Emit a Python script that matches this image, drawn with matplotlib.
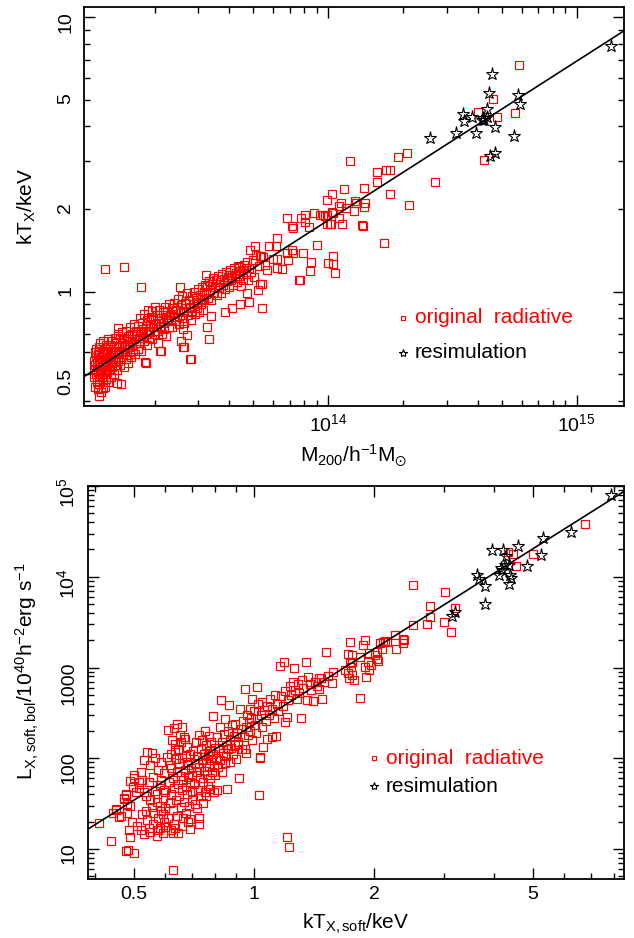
import numpy as np
import matplotlib
matplotlib.use('Agg')
import matplotlib.pyplot as plt
from matplotlib.ticker import FixedLocator, FixedFormatter, NullFormatter

# fonts
# -----
plt.rcParams['font.family'] = ['Liberation Sans', 'DejaVu Sans']
plt.rcParams['mathtext.fontset'] = 'custom'
plt.rcParams['mathtext.rm'] = 'Liberation Sans'
plt.rcParams['mathtext.it'] = 'Liberation Sans'
plt.rcParams['mathtext.default'] = 'regular'

# data, top panel: M200 (units of 1e13 h^-1 Msun) vs kT_X (keV)
# --------------------------------------------------------------
top_orig = [
    # M ~ 1.14 - 1.30
    (1.14, 0.52), (1.14, 0.56), (1.14, 0.49), (1.15, 0.60), (1.15, 0.45), (1.15, 0.54), (1.16, 0.58), (1.16, 0.50),
    (1.16, 0.62), (1.17, 0.47), (1.17, 0.55), (1.17, 0.53), (1.18, 0.59), (1.18, 0.44), (1.18, 0.51), (1.19, 0.57),
    (1.19, 0.63), (1.19, 0.48), (1.20, 0.53), (1.20, 0.60), (1.20, 0.46), (1.21, 0.55), (1.21, 0.65), (1.21, 0.50),
    (1.22, 0.58), (1.22, 0.52), (1.22, 0.43), (1.23, 0.61), (1.23, 0.56), (1.23, 0.49), (1.24, 0.54), (1.24, 0.66),
    (1.24, 0.47), (1.25, 0.59), (1.25, 0.52), (1.25, 0.57), (1.26, 0.62), (1.26, 0.50), (1.26, 0.45), (1.27, 0.55),
    (1.27, 0.60), (1.27, 0.53), (1.28, 0.64), (1.28, 0.48), (1.28, 0.57), (1.29, 0.51), (1.29, 0.59), (1.29, 0.54),
    (1.30, 0.62), (1.30, 0.56), (1.30, 0.47), (1.30, 0.67), (1.18, 0.442), (1.20, 0.415), (1.24, 0.445),
    # M ~ 1.3 - 1.7
    (1.31, 0.58), (1.32, 0.52), (1.32, 0.64), (1.33, 0.55), (1.33, 0.61), (1.34, 0.49), (1.34, 0.57), (1.35, 0.66),
    (1.35, 0.53), (1.36, 0.60), (1.36, 0.56), (1.37, 0.63), (1.37, 0.50), (1.38, 0.58), (1.38, 0.68), (1.39, 0.54),
    (1.39, 0.61), (1.40, 0.57), (1.40, 0.65), (1.41, 0.52), (1.41, 0.463), (1.42, 0.60), (1.42, 0.70), (1.43, 0.56),
    (1.43, 0.735), (1.44, 0.63), (1.44, 0.59), (1.45, 0.54), (1.45, 0.67), (1.46, 0.61), (1.47, 0.57), (1.47, 0.46),
    (1.48, 0.65), (1.48, 0.71), (1.49, 0.59), (1.50, 0.62), (1.50, 0.53), (1.51, 0.68), (1.52, 0.60), (1.52, 0.64),
    (1.53, 0.57), (1.54, 0.72), (1.55, 0.62), (1.55, 0.66), (1.56, 0.55), (1.57, 0.69), (1.58, 0.63), (1.59, 0.60),
    (1.60, 0.74), (1.60, 0.66), (1.61, 0.58), (1.62, 0.70), (1.63, 0.64), (1.64, 0.61), (1.65, 0.76), (1.66, 0.67),
    (1.67, 0.59), (1.68, 0.72), (1.69, 0.65), (1.70, 0.69),
    # M ~ 1.7 - 2.3
    (1.71, 0.62), (1.72, 0.75), (1.73, 0.68), (1.74, 0.80), (1.75, 0.65), (1.76, 0.71), (1.77, 0.61), (1.78, 0.77),
    (1.79, 0.69), (1.80, 0.73), (1.81, 0.83), (1.82, 0.66), (1.83, 0.553), (1.84, 0.75), (1.85, 0.70), (1.86, 0.79),
    (1.87, 0.64), (1.88, 0.72), (1.89, 0.86), (1.90, 0.68), (1.91, 0.76), (1.92, 0.71), (1.93, 0.81), (1.95, 0.85),
    (1.96, 0.67), (1.97, 0.74), (1.98, 0.79), (2.00, 0.70), (2.01, 0.88), (2.02, 0.76), (2.04, 0.72), (2.05, 0.82),
    (2.06, 0.65), (2.08, 0.78), (2.09, 0.86), (2.10, 0.61), (2.11, 0.74), (2.13, 0.80), (2.14, 0.70), (2.16, 0.84),
    (2.17, 0.77), (2.19, 0.73), (2.20, 0.88), (2.22, 0.81), (2.23, 0.69), (2.25, 0.85), (2.26, 0.78), (2.28, 0.74),
    (2.29, 0.90), (2.30, 0.82),
    # M ~ 2.3 - 3.2
    (2.32, 0.79), (2.34, 0.87), (2.36, 0.74), (2.38, 0.83), (2.40, 0.91), (2.42, 0.78), (2.44, 0.86), (2.46, 0.81),
    (2.48, 0.94), (2.50, 0.76), (2.52, 0.85), (2.55, 0.89), (2.57, 0.80), (2.59, 0.96), (2.61, 0.84), (2.63, 0.77),
    (2.65, 0.91), (2.67, 0.87), (2.69, 0.695), (2.71, 0.99), (2.73, 0.82), (2.75, 0.93), (2.78, 0.88), (2.80, 0.79),
    (2.82, 0.96), (2.84, 0.85), (2.87, 1.00), (2.89, 0.90), (2.91, 0.83), (2.93, 0.95), (2.96, 0.87), (2.98, 1.02),
    (3.00, 0.92), (3.03, 0.84), (3.05, 0.97), (3.07, 0.90), (3.09, 1.04), (3.11, 0.94), (3.13, 0.86), (3.15, 1.00),
    (3.17, 0.93), (3.19, 1.06), (2.62, 0.63), (2.80, 0.57), (2.60, 0.73),
    # M ~ 3.2 - 4.5
    (3.23, 0.98), (3.26, 1.05), (3.29, 0.95), (3.32, 1.09), (3.35, 1.01), (3.38, 0.93), (3.41, 1.07), (3.44, 1.12),
    (3.47, 0.99), (3.50, 1.04), (3.53, 1.10), (3.56, 0.97), (3.60, 1.14), (3.63, 1.03), (3.66, 1.08), (3.70, 0.99),
    (3.73, 1.16), (3.77, 1.06), (3.80, 1.11), (3.84, 1.02), (3.87, 1.18), (3.91, 1.09), (3.95, 1.13), (3.99, 1.04),
    (4.03, 1.20), (4.07, 1.10), (4.11, 1.15), (4.15, 1.06), (4.19, 1.22), (4.23, 1.12), (4.27, 1.17), (4.31, 1.08),
    (4.35, 1.24), (4.39, 1.14), (4.43, 1.19), (4.47, 1.05), (3.30, 0.67), (3.24, 0.746), (3.36, 0.817), (3.83, 0.84),
    # M ~ 4.5 - 6.5
    (4.52, 1.20), (4.55, 1.10), (4.60, 1.25), (4.65, 1.16), (4.70, 1.28), (4.75, 1.10), (4.80, 1.22), (4.86, 1.42),
    (4.90, 1.18), (4.96, 1.30), (5.02, 1.13), (5.07, 1.47), (5.13, 1.36), (5.20, 1.01), (5.25, 1.24), (5.33, 1.35),
    (5.40, 1.07), (5.47, 1.34), (5.55, 1.25), (5.65, 1.20), (5.80, 1.47), (6.00, 1.31), (6.15, 1.47), (6.23, 1.57),
    (6.20, 1.22), (6.53, 1.21), (4.10, 0.87), (4.41, 0.90), (4.80, 0.92), (5.40, 0.87), (4.70, 0.99), (5.33, 1.07),
    # M > 6.5
    (6.20, 1.31), (6.85, 1.38), (7.13, 1.42), (7.23, 1.38), (6.90, 1.30), (7.90, 1.38), (8.50, 1.28), (8.44, 1.19),
    (7.60, 1.10), (9.03, 1.48), (10.5, 1.35), (10.0, 1.27), (10.6, 1.17), (6.85, 1.85), (7.13, 1.73), (7.23, 1.70),
    (7.75, 1.86), (8.10, 1.90), (8.06, 1.80), (8.36, 1.72), (8.78, 1.93), (9.26, 1.90), (9.50, 1.91), (9.70, 1.88),
    (9.90, 1.90), (9.86, 1.76), (10.2, 1.77), (10.4, 1.95), (11.0, 1.85), (11.05, 2.05), (11.8, 2.01), (12.7, 1.97),
    (12.9, 2.11), (13.9, 2.04), (14.0, 2.11), (11.4, 1.76), (13.7, 1.75), (13.8, 1.74), (9.90, 2.15), (10.4, 2.27),
    (11.6, 2.36), (13.9, 2.38), (15.7, 2.50), (15.7, 2.72), (17.1, 2.77), (17.8, 2.77), (19.1, 3.10), (20.8, 3.19),
    (12.2, 2.99), (17.8, 2.26), (21.1, 2.07), (27.0, 2.51), (16.8, 1.51), (10.5, 1.26), (11.3, 2.10), (12.8, 2.14),
    (10.5, 1.93), (10.3, 1.77), (7.70, 1.10),
    (58.7, 6.71), (46.1, 5.02), (39.9, 4.53), (48.0, 4.32), (56.5, 4.47), (42.5, 3.02),
    # outliers
    (1.26, 1.21), (1.50, 1.23), (1.76, 1.04), (2.52, 1.04), (2.79, 0.57), (3.23, 1.15), (3.99, 1.15), (1.95, 0.85),
    (2.12, 0.61), (1.84, 0.548), (2.60, 0.63), (2.55, 0.66), (4.37, 1.23), (4.68, 1.22), (5.36, 1.35),
]

top_resim = [
    (137, 7.85), (45.6, 6.22), (44.3, 5.28), (58.2, 5.21), (59.1, 4.82), (43.4, 4.63), (34.9, 4.43), (37.8, 4.34),
    (35.3, 4.17), (42.0, 4.28), (42.5, 4.23), (41.4, 4.23), (43.4, 4.34), (46.8, 3.97), (32.8, 3.78), (39.2, 3.78),
    (25.7, 3.64), (56.0, 3.69), (46.8, 3.20), (44.7, 3.12),
]

# fit: kT = norm * (M / 1e14)^slope
top_fit_norm = 1.82
top_fit_slope = 0.58

# data, bottom panel: kT_X,soft (keV) vs L_X (1e40 h^-2 erg/s)
# ------------------------------------------------------------
bot_orig = [
    # kT ~ 0.40 - 0.51
    (0.41, 19.4), (0.438, 12.3), (0.478, 9.6), (0.483, 9.7), (0.50, 9.1), (0.443, 25.2), (0.459, 22.5), (0.45, 27.2),
    (0.478, 39.8), (0.48, 31.6), (0.473, 35.9), (0.463, 23.0), (0.481, 24.6), (0.49, 13.4), (0.485, 16.1),
    (0.495, 19.8), (0.452, 27.4), (0.473, 36.9), (0.479, 40.8), (0.50, 65.0), (0.514, 54.8), (0.497, 48.3),
    (0.499, 60.0), (0.505, 42.0), (0.49, 30.0), (0.488, 56.0),
    # kT ~ 0.51 - 0.60
    (0.51, 18), (0.515, 47), (0.52, 16), (0.52, 70), (0.525, 24), (0.53, 95), (0.53, 14.5), (0.535, 38),
    (0.54, 117), (0.54, 21), (0.545, 55), (0.55, 15.5), (0.55, 84), (0.555, 114), (0.555, 29), (0.56, 19),
    (0.56, 62), (0.565, 44), (0.57, 14), (0.57, 33), (0.575, 75), (0.575, 22), (0.58, 17), (0.58, 51),
    (0.585, 26), (0.585, 90), (0.59, 15), (0.59, 36), (0.595, 68), (0.595, 20), (0.60, 42), (0.60, 28),
    (0.60, 17.5), (0.525, 58), (0.535, 26), (0.545, 17), (0.565, 100), (0.57, 40), (0.58, 30), (0.59, 24),
    (0.53, 42), (0.55, 35), (0.56, 25), (0.575, 16), (0.585, 58), (0.595, 45),
    # kT ~ 0.60 - 0.70
    (0.605, 103), (0.61, 204), (0.61, 22), (0.612, 55), (0.615, 32), (0.618, 16), (0.62, 78), (0.62, 40),
    (0.623, 158), (0.625, 27), (0.627, 61), (0.63, 218), (0.63, 19), (0.632, 47), (0.635, 145), (0.635, 122),
    (0.637, 35), (0.64, 241), (0.64, 70), (0.642, 23), (0.645, 52), (0.645, 15), (0.648, 88), (0.65, 38),
    (0.652, 182), (0.655, 29), (0.655, 64), (0.659, 221), (0.66, 45), (0.66, 18), (0.662, 100), (0.665, 57),
    (0.667, 33), (0.669, 172), (0.67, 74), (0.672, 165), (0.675, 25), (0.675, 48), (0.678, 133), (0.68, 92),
    (0.68, 40), (0.683, 62), (0.685, 20), (0.687, 30), (0.69, 110), (0.69, 55), (0.692, 16.5), (0.69, 21.6),
    (0.695, 78), (0.698, 43), (0.70, 66), (0.70, 35), (0.625, 14.8), (0.635, 17), (0.665, 22), (0.615, 85),
    (0.62, 110), (0.645, 125), (0.655, 150), (0.675, 105), (0.685, 85), (0.638, 98), (0.625, 5.86),
    # kT ~ 0.70 - 0.80
    (0.705, 120), (0.708, 52), (0.71, 88), (0.712, 31), (0.715, 150), (0.718, 70), (0.72, 28), (0.722, 105),
    (0.725, 45), (0.727, 180), (0.729, 18.6), (0.73, 80), (0.733, 60), (0.735, 125), (0.737, 38), (0.74, 96),
    (0.742, 160), (0.745, 55), (0.748, 112), (0.75, 72), (0.752, 200), (0.755, 42), (0.757, 88), (0.76, 140),
    (0.762, 65), (0.765, 105), (0.768, 50), (0.77, 175), (0.772, 82), (0.775, 120), (0.778, 60), (0.78, 95),
    (0.782, 150), (0.785, 70), (0.789, 290), (0.79, 110), (0.792, 42.5), (0.795, 85), (0.798, 130), (0.80, 65),
    (0.73, 22), (0.745, 32), (0.76, 38), (0.775, 46),
    # kT ~ 0.80 - 0.95
    (0.805, 100), (0.808, 44.4), (0.81, 170), (0.815, 80), (0.818, 130), (0.82, 220), (0.823, 95), (0.827, 437),
    (0.83, 150), (0.833, 70), (0.836, 115), (0.84, 185), (0.844, 269), (0.847, 88), (0.85, 140), (0.853, 105),
    (0.856, 46.2), (0.86, 200), (0.863, 125), (0.867, 384), (0.87, 160), (0.873, 90), (0.877, 130), (0.88, 230),
    (0.885, 110), (0.89, 175), (0.895, 140), (0.898, 241), (0.90, 98), (0.905, 190), (0.91, 150), (0.913, 145),
    (0.919, 61.2), (0.924, 353), (0.93, 210), (0.935, 125), (0.94, 260), (0.945, 170), (0.949, 128),
    # kT ~ 0.95 - 1.15
    (0.951, 585), (0.955, 220), (0.958, 113), (0.96, 300), (0.965, 180), (0.97, 250), (0.975, 353), (0.98, 200),
    (0.985, 280), (0.988, 454), (0.99, 160), (1.00, 330), (1.005, 230), (1.01, 190), (1.017, 611), (1.02, 270),
    (1.025, 400), (1.031, 39), (1.035, 102), (1.037, 99.4), (1.04, 300), (1.045, 220), (1.047, 418), (1.055, 133),
    (1.06, 340), (1.07, 260), (1.076, 165), (1.08, 380), (1.09, 300), (1.10, 450), (1.108, 172), (1.11, 350),
    (1.12, 280), (1.13, 500), (1.136, 176), (1.14, 400), (1.15, 330),
    # kT ~ 1.15 - 1.6
    (1.162, 1035), (1.17, 480), (1.18, 380), (1.191, 1150), (1.196, 251), (1.20, 550), (1.208, 285), (1.208, 13.6),
    (1.215, 440), (1.226, 10.6), (1.23, 620), (1.24, 500), (1.25, 700), (1.262, 1000), (1.27, 560), (1.28, 450),
    (1.29, 650), (1.30, 520), (1.312, 281), (1.32, 720), (1.33, 600), (1.348, 1150), (1.355, 443), (1.368, 790),
    (1.38, 650), (1.39, 560), (1.41, 425), (1.42, 700), (1.44, 620), (1.46, 775), (1.46, 585), (1.47, 770),
    (1.48, 455), (1.50, 700), (1.513, 1480), (1.53, 800), (1.566, 680), (1.58, 900),
    # kT ~ 1.6 - 2.4
    (1.69, 935), (1.72, 860), (1.73, 775), (1.72, 1400), (1.74, 1890), (1.74, 1110), (1.75, 1010), (1.76, 1370),
    (1.76, 1150), (1.76, 823), (1.78, 725), (1.84, 1290), (1.84, 462), (1.88, 1770), (1.90, 2000), (1.90, 1010),
    (1.91, 790), (1.935, 1150), (1.94, 935), (1.94, 1450), (1.97, 1060), (2.01, 1370), (2.03, 1480), (2.03, 1250),
    (2.05, 1170), (2.07, 1840), (2.10, 1580), (2.11, 1900), (2.13, 1960), (2.15, 1890), (2.26, 2260), (2.27, 1620),
    (2.36, 1840), (2.37, 2080), (2.38, 2030),
    # kT > 2.4
    (2.50, 2970), (2.51, 8100), (2.72, 3055), (2.76, 3600), (2.77, 4800), (2.99, 3180), (3.01, 6730), (3.12, 2450),
    (3.19, 4530), (4.33, 18700), (4.47, 17800), (4.54, 13100), (5.02, 17800), (6.77, 37800),
]

bot_resim = [
    (7.88, 80400), (6.24, 31200), (5.30, 26900), (4.60, 22000), (3.95, 19500), (4.22, 19600), (5.25, 17200),
    (4.28, 16800), (4.26, 13500), (4.17, 12500), (4.83, 13300), (4.39, 10430), (4.12, 10430), (3.62, 10430),
    (3.67, 9500), (3.80, 7840), (4.35, 8350), (3.80, 5060), (3.20, 4060), (3.13, 3670), (4.35, 13400),
    (4.20, 11800), (4.40, 9800),
]

# fit: L = norm * (kT / 1 keV)^slope
bot_fit_norm = 235.0
bot_fit_slope = 2.77

legend_labels = ['original  radiative', 'resimulation']

# styles
# ------
red = '#ff0000'
sq_kw = dict(linestyle='none', marker='s', markersize=5.6, markerfacecolor='none',
             markeredgecolor=red, markeredgewidth=0.85)
st_kw = dict(linestyle='none', marker='*', markersize=9.5, markerfacecolor='none',
             markeredgecolor='black', markeredgewidth=0.8)

fig = plt.figure(figsize=(6.34, 9.38), dpi=100)
ax1 = fig.add_axes([0.1325, 0.5672, 0.8517, 0.425])
ax2 = fig.add_axes([0.1383, 0.0626, 0.8459, 0.4196])


def style_axis(ax):
    ax.set_xscale('log')
    ax.set_yscale('log')
    for sp in ax.spines.values():
        sp.set_linewidth(1.3)
    ax.tick_params(which='both', direction='in', top=True, right=True, labelsize=14, width=1.0)
    ax.tick_params(which='major', length=8)
    ax.tick_params(which='minor', length=4.5)
    ax.tick_params(axis='y', which='both', labelrotation=90, pad=7)
    ax.tick_params(axis='x', which='both', pad=5)


# top panel
# ---------
m_o, t_o = np.array(top_orig).T
m_r, t_r = np.array(top_resim).T
m_o = m_o * 1e13
m_r = m_r * 1e13

style_axis(ax1)
ax1.plot(m_o, t_o, **sq_kw)
ax1.plot(m_r, t_r, **st_kw)
x1lim = (1.04e13, 1.55e15)
mfit = np.array(x1lim)
ax1.plot(mfit, top_fit_norm * (mfit / 1e14) ** top_fit_slope, color='black', lw=1.2)
ax1.set_xlim(x1lim)
ax1.set_ylim(0.383, 10.87)

ax1.xaxis.set_major_locator(FixedLocator([1e14, 1e15]))
ax1.xaxis.set_major_formatter(FixedFormatter([r'$10^{14}$', r'$10^{15}$']))
ax1.xaxis.set_minor_locator(FixedLocator([k * 1e13 for k in range(2, 10)] + [k * 1e14 for k in range(2, 10)]))
ax1.xaxis.set_minor_formatter(NullFormatter())
ax1.yaxis.set_major_locator(FixedLocator([1, 10]))
ax1.yaxis.set_major_formatter(FixedFormatter(['1', '10']))
y1minor = [0.4, 0.5, 0.6, 0.7, 0.8, 0.9, 2, 3, 4, 5, 6, 7, 8, 9]
ax1.yaxis.set_minor_locator(FixedLocator(y1minor))
ax1.yaxis.set_minor_formatter(FixedFormatter(['', '0.5', '', '', '', '', '2', '', '', '5', '', '', '', '']))

ax1.set_ylabel(r'kT$_{\rm X}$/keV', fontsize=15)
ax1.yaxis.set_label_coords(-0.085, 0.5)
ax1.set_xlabel(r'M$_{\rm 200}$/h$^{-1}$M$_{\odot}$', fontsize=15)
ax1.xaxis.set_label_coords(0.5, -0.09)

ax1.plot([0.591], [0.221], transform=ax1.transAxes, linestyle='none', marker='s', markersize=3.2,
         markerfacecolor='none', markeredgecolor=red, markeredgewidth=0.8)
ax1.plot([0.591], [0.133], transform=ax1.transAxes, linestyle='none', marker='*', markersize=6,
         markerfacecolor='none', markeredgecolor='black', markeredgewidth=0.8)
ax1.text(0.613, 0.221, legend_labels[0], transform=ax1.transAxes, color=red, fontsize=15, va='center')
ax1.text(0.613, 0.133, legend_labels[1], transform=ax1.transAxes, color='black', fontsize=15, va='center')

# bottom panel
# ------------
k_o, l_o = np.array(bot_orig).T
k_r, l_r = np.array(bot_resim).T

style_axis(ax2)
ax2.plot(k_o, l_o, **sq_kw)
ax2.plot(k_r, l_r, **st_kw)
x2lim = (0.383, 8.47)
kfit = np.array(x2lim)
ax2.plot(kfit, bot_fit_norm * kfit ** bot_fit_slope, color='black', lw=1.2)
ax2.set_xlim(x2lim)
ax2.set_ylim(4.63, 1.01e5)

ax2.xaxis.set_major_locator(FixedLocator([0.5, 1, 2, 5]))
ax2.xaxis.set_major_formatter(FixedFormatter(['0.5', '1', '2', '5']))
ax2.xaxis.set_minor_locator(FixedLocator([0.4, 0.6, 0.7, 0.8, 0.9, 3, 4, 6, 7, 8]))
ax2.xaxis.set_minor_formatter(NullFormatter())
ax2.yaxis.set_major_locator(FixedLocator([10, 100, 1000, 1e4, 1e5]))
ax2.yaxis.set_major_formatter(FixedFormatter(['10', '100', '1000', r'$10^4$', r'$10^5$']))
ax2.yaxis.set_minor_locator(FixedLocator([k * 10.0 ** d for d in range(0, 5) for k in range(2, 10)]))
ax2.yaxis.set_minor_formatter(NullFormatter())

ax2.set_ylabel(r'L$_{\rm X,soft,bol}$/10$^{40}$h$^{-2}$erg s$^{-1}$', fontsize=15)
ax2.yaxis.set_label_coords(-0.087, 0.528)
ax2.set_xlabel(r'kT$_{\rm X,soft}$/keV', fontsize=15)
ax2.xaxis.set_label_coords(0.5, -0.082)

ax2.plot([0.534], [0.308], transform=ax2.transAxes, linestyle='none', marker='s', markersize=3.2,
         markerfacecolor='none', markeredgecolor=red, markeredgewidth=0.8)
ax2.plot([0.534], [0.237], transform=ax2.transAxes, linestyle='none', marker='*', markersize=6,
         markerfacecolor='none', markeredgecolor='black', markeredgewidth=0.8)
ax2.text(0.556, 0.308, legend_labels[0], transform=ax2.transAxes, color=red, fontsize=15, va='center')
ax2.text(0.556, 0.237, legend_labels[1], transform=ax2.transAxes, color='black', fontsize=15, va='center')

fig.patch.set_facecolor('white')
fig.savefig('out.png', dpi=100)
